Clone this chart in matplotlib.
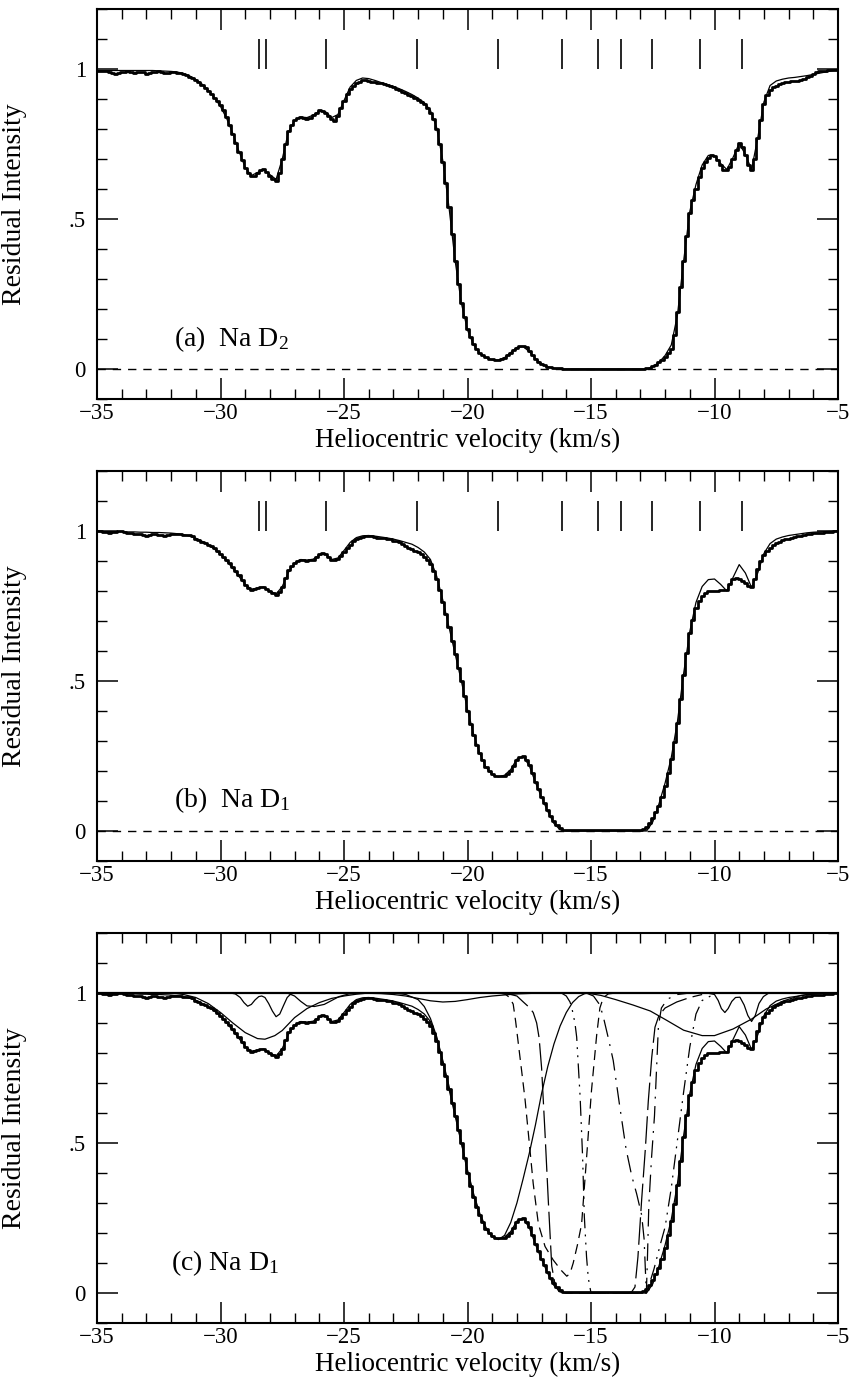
import numpy as np
import matplotlib
matplotlib.use("Agg")
import matplotlib.pyplot as plt
from matplotlib.ticker import MultipleLocator, FixedLocator, FixedFormatter, FuncFormatter

plt.rcParams['font.family'] = ['Liberation Serif', 'DejaVu Serif']
plt.rcParams['mathtext.fontset'] = 'custom'
plt.rcParams['mathtext.rm'] = 'Liberation Serif'
plt.rcParams['mathtext.it'] = 'Liberation Serif:italic'

# ---------------- data ----------------
VEL_START = -35.0
OBS_STEP = 0.125   # observed spectra bins
FIT_STEP = 0.25    # model fit sampling

# Na D2 observed (panel a), one row per km/s
d2_obs = [
    0.995, 0.994, 0.993, 0.992, 0.990, 0.988, 0.985, 0.988,
    0.990, 0.991, 0.992, 0.991, 0.988, 0.989, 0.990, 0.990,
    0.985, 0.987, 0.990, 0.991, 0.992, 0.990, 0.987, 0.988,
    0.990, 0.990, 0.988, 0.986, 0.982, 0.979, 0.975, 0.970,
    0.965, 0.957, 0.948, 0.938, 0.928, 0.917, 0.905, 0.893,
    0.880, 0.862, 0.840, 0.815, 0.785, 0.755, 0.725, 0.697,
    0.670, 0.652, 0.642, 0.645, 0.655, 0.665, 0.668, 0.658,
    0.645, 0.632, 0.628, 0.655, 0.700, 0.750, 0.795, 0.815,
    0.830, 0.836, 0.840, 0.838, 0.833, 0.838, 0.848, 0.855,
    0.862, 0.860, 0.855, 0.845, 0.835, 0.826, 0.845, 0.870,
    0.895, 0.918, 0.935, 0.945, 0.952, 0.957, 0.962, 0.963,
    0.960, 0.958, 0.957, 0.955, 0.952, 0.949, 0.946, 0.943,
    0.940, 0.935, 0.930, 0.925, 0.920, 0.915, 0.910, 0.904,
    0.898, 0.890, 0.882, 0.870, 0.855, 0.832, 0.800, 0.750,
    0.690, 0.620, 0.540, 0.450, 0.360, 0.285, 0.220, 0.172,
    0.135, 0.108, 0.085, 0.068, 0.055, 0.047, 0.040, 0.035,
    0.032, 0.031, 0.030, 0.033, 0.038, 0.046, 0.055, 0.063,
    0.070, 0.076, 0.078, 0.072, 0.060, 0.047, 0.035, 0.025,
    0.018, 0.012, 0.008, 0.006, 0.004, 0.003, 0.002, 0.001,
    0.001, 0.000, 0.000, 0.000, 0.000, 0.000, 0.000, 0.000,
    0.000, 0.000, 0.000, 0.000, 0.000, 0.000, 0.000, 0.000,
    0.000, 0.000, 0.000, 0.000, 0.000, 0.000, 0.000, 0.000,
    0.000, 0.001, 0.002, 0.005, 0.010, 0.015, 0.022, 0.030,
    0.040, 0.052, 0.068, 0.115, 0.190, 0.275, 0.360, 0.445,
    0.520, 0.565, 0.600, 0.640, 0.670, 0.690, 0.705, 0.712,
    0.710, 0.698, 0.680, 0.665, 0.662, 0.675, 0.700, 0.730,
    0.755, 0.740, 0.712, 0.680, 0.662, 0.700, 0.770, 0.830,
    0.885, 0.912, 0.930, 0.940, 0.945, 0.950, 0.955, 0.957,
    0.958, 0.959, 0.960, 0.961, 0.962, 0.966, 0.972, 0.978,
    0.985, 0.989, 0.992, 0.994, 0.995, 0.996, 0.997, 0.998,
    0.998,
]

# Na D2 model fit (panel a)
d2_fit = [
    0.995, 0.995, 0.995, 0.995,
    0.995, 0.995, 0.995, 0.995,
    0.995, 0.995, 0.994, 0.993,
    0.992, 0.990, 0.985, 0.977,
    0.965, 0.950, 0.930, 0.905,
    0.875, 0.835, 0.785, 0.725,
    0.672, 0.645, 0.655, 0.665,
    0.648, 0.632, 0.700, 0.790,
    0.828, 0.840, 0.838, 0.846,
    0.860, 0.858, 0.838, 0.848,
    0.895, 0.940, 0.962, 0.970,
    0.968, 0.962, 0.955, 0.948,
    0.942, 0.934, 0.925, 0.915,
    0.903, 0.888, 0.862, 0.805,
    0.695, 0.540, 0.360, 0.220,
    0.130, 0.080, 0.052, 0.038,
    0.030, 0.030, 0.038, 0.055,
    0.072, 0.075, 0.058, 0.035,
    0.017, 0.007, 0.002, 0.000,
    0.000, 0.000, 0.000, 0.000,
    0.000, 0.000, 0.000, 0.000,
    0.000, 0.000, 0.000, 0.000,
    0.000, 0.000, 0.008, 0.022,
    0.045, 0.080, 0.180, 0.360,
    0.525, 0.615, 0.680, 0.712,
    0.712, 0.685, 0.665, 0.705,
    0.752, 0.715, 0.665, 0.770,
    0.890, 0.945, 0.960, 0.966,
    0.970, 0.972, 0.975, 0.978,
    0.982, 0.986, 0.990, 0.994,
    0.997,
]

# Na D1 observed (panels b and c)
d1_obs = [
    1.000, 0.999, 0.998, 0.996, 0.995, 0.996, 0.997, 0.999,
    1.000, 0.997, 0.995, 0.992, 0.990, 0.990, 0.990, 0.988,
    0.985, 0.987, 0.990, 0.989, 0.987, 0.986, 0.985, 0.988,
    0.990, 0.990, 0.990, 0.989, 0.988, 0.988, 0.987, 0.982,
    0.975, 0.970, 0.965, 0.960, 0.955, 0.950, 0.945, 0.935,
    0.925, 0.915, 0.905, 0.893, 0.880, 0.866, 0.852, 0.836,
    0.820, 0.810, 0.803, 0.806, 0.810, 0.815, 0.815, 0.808,
    0.800, 0.792, 0.787, 0.798, 0.815, 0.842, 0.870, 0.885,
    0.895, 0.900, 0.905, 0.903, 0.900, 0.902, 0.905, 0.914,
    0.922, 0.926, 0.925, 0.915, 0.905, 0.905, 0.908, 0.918,
    0.930, 0.943, 0.955, 0.966, 0.975, 0.978, 0.980, 0.982,
    0.983, 0.982, 0.980, 0.978, 0.977, 0.976, 0.975, 0.972,
    0.968, 0.966, 0.963, 0.957, 0.950, 0.945, 0.940, 0.935,
    0.930, 0.923, 0.915, 0.903, 0.890, 0.868, 0.840, 0.805,
    0.765, 0.722, 0.680, 0.635, 0.590, 0.545, 0.500, 0.450,
    0.400, 0.358, 0.320, 0.288, 0.260, 0.236, 0.215, 0.200,
    0.190, 0.185, 0.182, 0.182, 0.185, 0.191, 0.200, 0.218,
    0.238, 0.247, 0.250, 0.238, 0.220, 0.193, 0.165, 0.140,
    0.115, 0.092, 0.070, 0.050, 0.032, 0.020, 0.010, 0.005,
    0.003, 0.002, 0.002, 0.002, 0.002, 0.002, 0.002, 0.002,
    0.002, 0.002, 0.002, 0.002, 0.002, 0.002, 0.002, 0.002,
    0.002, 0.002, 0.002, 0.002, 0.002, 0.002, 0.002, 0.002,
    0.005, 0.008, 0.013, 0.027, 0.045, 0.065, 0.085, 0.115,
    0.150, 0.195, 0.240, 0.298, 0.360, 0.440, 0.520, 0.592,
    0.660, 0.705, 0.745, 0.767, 0.785, 0.795, 0.800, 0.801,
    0.800, 0.801, 0.802, 0.803, 0.805, 0.822, 0.840, 0.842,
    0.840, 0.834, 0.826, 0.818, 0.815, 0.840, 0.875, 0.900,
    0.920, 0.934, 0.945, 0.953, 0.960, 0.965, 0.970, 0.973,
    0.975, 0.978, 0.980, 0.983, 0.985, 0.988, 0.990, 0.991,
    0.992, 0.993, 0.994, 0.995, 0.996, 0.997, 0.998, 0.999,
    1.000,
]

# Na D1 model fit (panels b and c)
d1_fit = [
    0.998, 0.998, 0.998, 0.998,
    0.998, 0.997, 0.997, 0.996,
    0.996, 0.995, 0.995, 0.994,
    0.993, 0.991, 0.988, 0.983,
    0.976, 0.966, 0.954, 0.940,
    0.922, 0.900, 0.875, 0.848,
    0.822, 0.806, 0.810, 0.813,
    0.800, 0.790, 0.815, 0.862,
    0.893, 0.905, 0.903, 0.906,
    0.920, 0.923, 0.905, 0.910,
    0.935, 0.962, 0.978, 0.984,
    0.985, 0.983, 0.980, 0.977,
    0.973, 0.968, 0.962, 0.956,
    0.945, 0.930, 0.905, 0.850,
    0.770, 0.680, 0.590, 0.500,
    0.405, 0.322, 0.258, 0.212,
    0.188, 0.180, 0.186, 0.205,
    0.240, 0.248, 0.218, 0.162,
    0.112, 0.065, 0.025, 0.004,
    0.000, 0.000, 0.000, 0.000,
    0.000, 0.000, 0.000, 0.000,
    0.000, 0.000, 0.000, 0.000,
    0.000, 0.000, 0.030, 0.090,
    0.160, 0.245, 0.365, 0.525,
    0.665, 0.762, 0.815, 0.838,
    0.840, 0.822, 0.800, 0.845,
    0.888, 0.860, 0.812, 0.860,
    0.925, 0.958, 0.973, 0.980,
    0.985, 0.988, 0.991, 0.994,
    0.996, 0.997, 0.998, 0.999,
    1.000,
]

# velocities of the fitted cloud components (marks in panels a, b)
component_vel = [-28.44, -28.17, -25.73, -22.06, -18.78, -16.19,
                 -14.73, -13.80, -12.52, -10.60, -8.87]

# individual component profiles in panel c
comp_broad28_v = [-32.0, -31.5, -31.0, -30.5, -30.0, -29.5, -29.0, -28.5, -28.2,
                  -27.8, -27.5, -27.0, -26.5, -26.0, -25.5, -25.0, -24.5, -24.0]
comp_broad28_I = [1.000, 0.995, 0.985, 0.965, 0.935, 0.900, 0.868, 0.848, 0.846,
                  0.858, 0.875, 0.918, 0.948, 0.968, 0.982, 0.990, 0.996, 1.000]

comp_hfs28_v = [-29.6, -29.4, -29.2, -29.05, -28.9, -28.75, -28.6, -28.45, -28.33,
                -28.2, -28.05, -27.9, -27.75, -27.6, -27.45, -27.3, -27.15, -27.0]
comp_hfs28_I = [1.000, 0.997, 0.985, 0.968, 0.956, 0.962, 0.977, 0.988, 0.990,
                0.985, 0.965, 0.940, 0.921, 0.930, 0.958, 0.985, 0.997, 1.000]

comp_26_v = [-27.3, -27.0, -26.75, -26.5, -26.2, -25.8, -25.5, -25.2, -24.8, -24.3]
comp_26_I = [1.000, 0.990, 0.972, 0.957, 0.955, 0.962, 0.975, 0.988, 0.997, 1.000]

comp_21_v = [-24.5, -23.5, -23.0, -22.5, -22.0, -21.5, -21.0, -20.5, -20.0,
             -19.5, -19.0, -18.0, -17.0]
comp_21_I = [1.000, 0.998, 0.995, 0.990, 0.982, 0.974, 0.970, 0.972, 0.978,
             0.985, 0.990, 0.997, 1.000]

comp_19_v = [-23.0, -22.5, -22.0, -21.75, -21.5, -21.25, -21.0, -20.75, -20.5,
             -20.25, -20.0, -19.75, -19.5, -19.25, -19.0, -18.75, -18.5, -18.25,
             -18.0, -17.75, -17.5, -17.25, -17.0, -16.75, -16.5, -16.25, -16.0,
             -15.75, -15.5, -15.25, -15.0]
comp_19_I = [1.000, 0.995, 0.978, 0.955, 0.915, 0.855, 0.775, 0.690, 0.598,
             0.503, 0.410, 0.330, 0.265, 0.218, 0.188, 0.178, 0.192, 0.235,
             0.300, 0.380, 0.465, 0.560, 0.665, 0.755, 0.830, 0.890, 0.935,
             0.968, 0.988, 0.998, 1.000]

comp_16_v = [-18.7, -18.45, -18.3, -18.15, -18.05, -17.94, -17.8, -17.67, -17.47,
             -17.34, -17.13, -16.86, -16.53, -16.2, -15.98, -15.85, -15.72, -15.55,
             -15.38, -15.18, -14.98, -14.77, -14.64, -14.5, -14.3, -14.0]
comp_16_I = [1.000, 0.995, 0.985, 0.963, 0.905, 0.830, 0.735, 0.645, 0.476,
             0.365, 0.230, 0.155, 0.110, 0.075, 0.056, 0.065, 0.100, 0.160,
             0.230, 0.450, 0.675, 0.860, 0.950, 0.985, 0.997, 1.000]

comp_147_v = [-18.5, -18.0, -17.74, -17.5, -17.34, -17.2, -17.1, -17.0, -16.86,
              -16.73, -16.59, -16.46, -16.3, -16.0, -13.5, -13.35, -13.22, -13.1,
              -12.95, -12.8, -12.68, -12.54, -12.41, -12.25, -12.0, -11.53, -11.0, -10.5]
comp_147_I = [1.000, 0.990, 0.970, 0.952, 0.935, 0.900, 0.850, 0.750, 0.530,
              0.310, 0.090, 0.030, 0.005, 0.000, 0.000, 0.004, 0.020, 0.120,
              0.310, 0.480, 0.640, 0.786, 0.886, 0.925, 0.950, 0.970, 0.985, 0.995]

comp_138_v = [-16.2, -16.0, -15.85, -15.78, -15.65, -15.58, -15.51, -15.44, -15.34,
              -15.27, -15.18, -15.11, -15.0, -12.75, -12.45, -12.2, -12.0, -11.75,
              -11.5, -11.25, -11.0, -10.75, -10.5, -10.0]
comp_138_I = [1.000, 0.990, 0.970, 0.952, 0.900, 0.853, 0.753, 0.653, 0.454,
              0.255, 0.120, 0.050, 0.000, 0.000, 0.080, 0.160, 0.220, 0.350,
              0.510, 0.670, 0.820, 0.930, 0.975, 0.997]

comp_125_v = [-15.2, -14.9, -14.64, -14.5, -14.3, -14.1, -13.85, -13.58, -13.35,
              -13.15, -12.95, -12.85, -12.8, -12.76, -12.72, -12.66, -12.55, -12.43,
              -12.35, -12.27, -12.15, -11.9, -11.5, -11.0]
comp_125_I = [1.000, 0.990, 0.960, 0.920, 0.850, 0.775, 0.630, 0.480, 0.390,
              0.330, 0.260, 0.180, 0.080, 0.000, 0.100, 0.290, 0.450, 0.590,
              0.740, 0.890, 0.950, 0.980, 0.995, 1.000]

comp_106_v = [-15.2, -14.6, -14.0, -13.3, -12.6, -12.0, -11.25, -10.5, -10.0,
              -9.25, -8.5, -7.9, -7.2, -6.5, -6.0, -5.5]
comp_106_I = [1.000, 0.992, 0.978, 0.960, 0.940, 0.912, 0.876, 0.858, 0.858,
              0.880, 0.913, 0.947, 0.974, 0.992, 0.998, 1.000]

comp_89_v = [-10.3, -10.0, -9.85, -9.72, -9.58, -9.45, -9.3, -9.15, -8.97,
             -8.8, -8.65, -8.5, -8.35, -8.2, -8.02, -7.8]
comp_89_I = [1.000, 0.995, 0.975, 0.948, 0.935, 0.948, 0.972, 0.985, 0.986,
             0.960, 0.925, 0.905, 0.925, 0.965, 0.988, 1.000]

panel_labels = ["(a)  Na D$_2$", "(b)  Na D$_1$", "(c) Na D$_1$"]
x_label = "Heliocentric velocity (km/s)"
y_label = "Residual Intensity"
y_ticks = [0.0, 0.5, 1.0]
y_tick_labels = ["0", ".5", "1"]

# ---------------- figure ----------------
vel_obs = VEL_START + OBS_STEP * np.arange(len(d2_obs))
vel_fit = VEL_START + FIT_STEP * np.arange(len(d2_fit))

W, H = 852, 1383
fig = plt.figure(figsize=(W / 100, H / 100), dpi=100)

left = 97 / W
width = (838 - 97) / W
panel_tops = [9, 471, 933]
panel_h = 390


def style_axes(ax):
    ax.set_xlim(-35, -5)
    ax.set_ylim(-0.1, 1.2)
    ax.xaxis.set_major_locator(MultipleLocator(5))
    ax.xaxis.set_minor_locator(MultipleLocator(1))
    ax.yaxis.set_major_locator(FixedLocator(y_ticks))
    ax.yaxis.set_major_formatter(FixedFormatter(y_tick_labels))
    ax.yaxis.set_minor_locator(MultipleLocator(0.1))
    ax.xaxis.set_major_formatter(FuncFormatter(
        lambda x, p: f"{int(round(x))}".replace("-", "\u2212")))
    ax.tick_params(which='both', direction='in', top=True, right=True,
                   labelsize=16.5, colors='black')
    ax.tick_params(which='major', length=15, width=1.1)
    ax.tick_params(which='minor', length=7, width=1.0)
    ax.tick_params(axis='x', which='major', pad=3)
    ax.tick_params(axis='y', which='major', pad=8)
    for s in ax.spines.values():
        s.set_linewidth(1.5)
    ax.set_xlabel(x_label, fontsize=19.5)
    ax.set_ylabel(y_label, fontsize=20)
    ax.xaxis.set_label_coords(0.5, -0.074)
    ax.yaxis.set_label_coords(-0.094, 0.5)


axes = []
for top in panel_tops:
    bottom = 1 - (top + panel_h) / H
    ax = fig.add_axes([left, bottom, width, panel_h / H])
    style_axes(ax)
    axes.append(ax)

ax_a, ax_b, ax_c = axes

# panel (a)
ax_a.axhline(0, color='black', lw=1.0, ls=(0, (6, 5)))
ax_a.vlines(component_vel, 1.0, 1.1, color='black', lw=1.2)
ax_a.plot(vel_fit, d2_fit, color='black', lw=0.9)
ax_a.plot(vel_obs, d2_obs, color='black', lw=2.0, drawstyle='steps-mid')
ax_a.text(-31.9, 0.075, panel_labels[0], fontsize=20)

# panel (b)
ax_b.axhline(0, color='black', lw=1.0, ls=(0, (6, 5)))
ax_b.vlines(component_vel, 1.0, 1.1, color='black', lw=1.2)
ax_b.plot(vel_fit, d1_fit, color='black', lw=0.9)
ax_b.plot(vel_obs, d1_obs, color='black', lw=2.0, drawstyle='steps-mid')
ax_b.text(-31.9, 0.08, panel_labels[1], fontsize=20)

# panel (c)
ax_c.axhline(1.0, color='black', lw=1.6)
thin = dict(color='black', lw=0.9)
ax_c.plot(comp_broad28_v, comp_broad28_I, **thin)
ax_c.plot(comp_hfs28_v, comp_hfs28_I, **thin)
ax_c.plot(comp_26_v, comp_26_I, **thin)
ax_c.plot(comp_21_v, comp_21_I, **thin)
ax_c.plot(comp_19_v, comp_19_I, **thin)
ax_c.plot(comp_16_v, comp_16_I, color='black', lw=0.9, ls=(0, (8, 5)))
ax_c.plot(comp_147_v, comp_147_I, color='black', lw=0.9, ls=(0, (22, 5)))
ax_c.plot(comp_138_v, comp_138_I, color='black', lw=0.9, ls=(0, (12, 5, 1.5, 5, 1.5, 5)))
ax_c.plot(comp_125_v, comp_125_I, color='black', lw=0.9, ls=(0, (14, 6, 1.5, 6)))
ax_c.plot(comp_106_v, comp_106_I, **thin)
ax_c.plot(comp_89_v, comp_89_I, **thin)
ax_c.plot(vel_fit, d1_fit, color='black', lw=0.9)
ax_c.plot(vel_obs, d1_obs, color='black', lw=2.0, drawstyle='steps-mid')
ax_c.text(-32.0, 0.077, panel_labels[2], fontsize=20)

fig.savefig("out.png", dpi=100)
